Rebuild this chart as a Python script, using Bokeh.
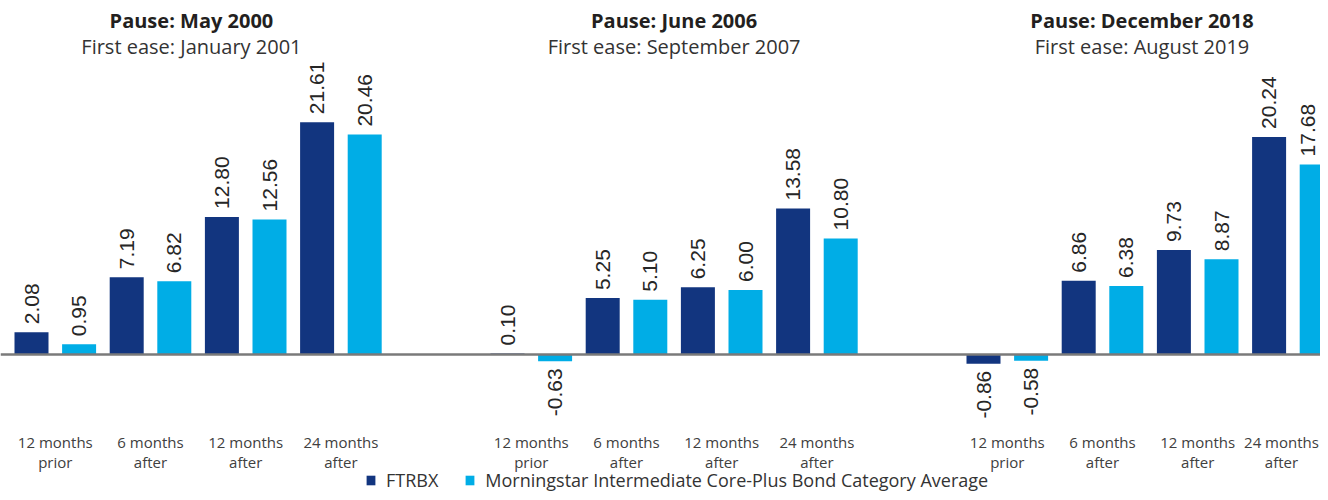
from bokeh.plotting import figure
from bokeh.models import Range1d, Span, Legend, LegendItem, ColumnDataSource
from bokeh.core.properties import value
from bokeh.embed import file_html
from bokeh.resources import INLINE
import math

# ---------------- data ----------------
pauses = ["Pause: May 2000", "Pause: June 2006", "Pause: December 2018"]
first_eases = ["First ease: January 2001", "First ease: September 2007", "First ease: August 2019"]
categories = ["12 months\nprior", "6 months\nafter", "12 months\nafter", "24 months\nafter"]
ftrbx = [
    [2.08, 7.19, 12.80, 21.61],
    [0.10, 5.25, 6.25, 13.58],
    [-0.86, 6.86, 9.73, 20.24],
]
morningstar = [
    [0.95, 6.82, 12.56, 20.46],
    [-0.63, 5.10, 6.00, 10.80],
    [-0.58, 6.38, 8.87, 17.68],
]
series_names = ["FTRBX", "Morningstar Intermediate Core-Plus Bond Category Average"]
colors = ["#12357f", "#00ade6"]

# ---------------- layout helpers ----------------
W, H = 1320, 492
PX = 10.75          # pixels per percentage point
BASE = 354          # canvas y of zero line
SLOT_PX = 47.6
X0_PX = 31
SLOTS_PER_GROUP = 10
X_END = (W - X0_PX) / SLOT_PX

def ypix(cy):
    return (BASE - cy) / PX

p = figure(width=W, height=H, output_backend="svg", toolbar_location=None,
           x_range=Range1d(-X0_PX / SLOT_PX, X_END),
           y_range=Range1d(ypix(H), ypix(0)),
           x_axis_location=None, y_axis_location=None,
           min_border=0, min_border_left=0, min_border_right=0,
           min_border_top=0, min_border_bottom=0)
p.grid.visible = False
p.outline_line_color = None
p.background_fill_color = "white"
p.border_fill_color = "white"

def edge_shift(x, half_px):
    """pixel shift so a centered text of half-width half_px stays inside the frame"""
    right_px = (x - (-X0_PX / SLOT_PX)) * SLOT_PX + half_px
    return min(0, W - 1 - right_px)

renderers = []
for s, vals in enumerate([ftrbx, morningstar]):
    xs, tops, labels = [], [], []
    for g in range(len(pauses)):
        for c in range(len(categories)):
            xs.append(g * SLOTS_PER_GROUP + c * 2 + s)
            tops.append(vals[g][c])
            labels.append("%.2f" % vals[g][c])
    src = ColumnDataSource(dict(x=xs, top=tops, label=labels))
    r = p.vbar(x="x", top="top", bottom=0, width=34 / SLOT_PX, source=src,
               fill_color=colors[s], line_color=None)
    renderers.append(r)
    for sign, align, yoff in ((1, "left", -8), (-1, "right", 7)):
        keep = [i for i, t in enumerate(tops) if (t >= 0) == (sign > 0)]
        lsrc = ColumnDataSource(dict(x=[xs[i] for i in keep], y=[tops[i] for i in keep],
                                     label=[labels[i] for i in keep],
                                     dx=[edge_shift(xs[i], 12) for i in keep]))
        p.text(x="x", y="y", text="label", source=lsrc, angle=math.pi / 2,
               text_align=align, text_baseline="middle", y_offset=yoff, x_offset="dx",
               text_font=value("Liberation Sans"), text_font_size="21px", text_color="#262626")

# category labels
cx, l1, l2, dx = [], [], [], []
for g in range(len(pauses)):
    for c, cat in enumerate(categories):
        x = g * SLOTS_PER_GROUP + c * 2 + 0.5
        cx.append(x)
        a, b = cat.split("\n")
        l1.append(a)
        l2.append(b)
        dx.append(edge_shift(x, 38))
for lines, cy in ((l1, 441.7), (l2, 461.7)):
    csrc = ColumnDataSource(dict(x=cx, y=[ypix(cy)] * len(cx), text=lines, dx=dx))
    p.text(x="x", y="y", text="text", source=csrc, x_offset="dx",
           text_align="center", text_baseline="middle",
           text_font=value("Open Sans"), text_font_size="15px", text_color="#404040")

# group titles
gx = [g * SLOTS_PER_GROUP + 3.5 + off for g, off in zip(range(len(pauses)), [-0.14, 0.0, -0.17])]
p.text(x=gx, y=[ypix(20)] * 3, text=pauses, text_align="center", text_baseline="middle",
       text_font=value("Open Sans"), text_font_style="bold", text_font_size="20px", text_color="#231f20")
p.text(x=gx, y=[ypix(46)] * 3, text=first_eases, text_align="center", text_baseline="middle",
       text_font=value("Open Sans"), text_font_size="20px", text_color="#333333")

# zero line
p.add_layout(Span(location=0, dimension="width", line_color="#7a7a7a", line_width=2.5))

legend = Legend(items=[LegendItem(label=series_names[i], renderers=[renderers[i]]) for i in range(2)],
                orientation="horizontal", location=(365, 0), padding=0, margin=0,
                spacing=26, label_standoff=10, glyph_width=11, glyph_height=12,
                label_height=18, label_text_font="Open Sans", label_text_font_size="18px",
                label_text_color="#333333", border_line_color=None, background_fill_alpha=0)
p.add_layout(legend, "center")

open("out.html", "w").write(file_html(p, INLINE))
